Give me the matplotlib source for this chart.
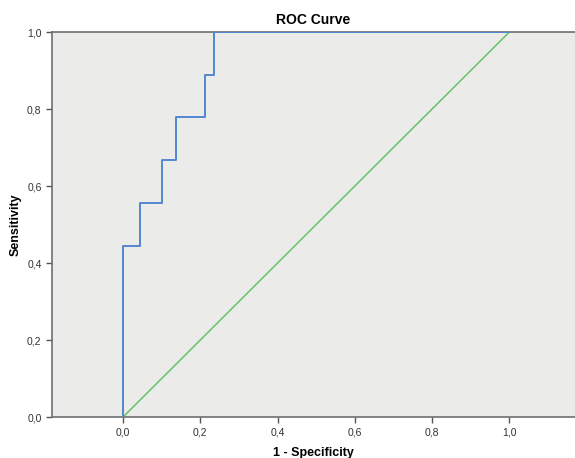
import numpy as np
import matplotlib
matplotlib.use("Agg")
import matplotlib.pyplot as plt

plt.rcParams['font.family'] = ['Liberation Sans', 'DejaVu Sans']

# ROC curve points (1 - specificity, sensitivity)
fpr = [0.0, 0.0, 0.044, 0.044, 0.100, 0.100, 0.137, 0.137, 0.213, 0.213, 0.236, 0.236, 1.0]
tpr = [0.0, 0.444, 0.444, 0.556, 0.556, 0.667, 0.667, 0.778, 0.778, 0.889, 0.889, 1.0, 1.0]

# reference line
ref_x = [0.0, 1.0]
ref_y = [0.0, 1.0]

ticks = [0.0, 0.2, 0.4, 0.6, 0.8, 1.0]
tick_labels = ['0,0', '0,2', '0,4', '0,6', '0,8', '1,0']

fig = plt.figure(figsize=(5.75, 4.58), dpi=100)
ax = fig.add_axes([0.0904, 0.0895, 0.9096, 0.8406])
ax.set_facecolor('#ebecea')

ax.plot(ref_x, ref_y, color='#66c266', lw=1.1, zorder=2)
ax.plot(fpr, tpr, color='#5288d0', lw=1.4, zorder=3)

ax.set_xlim(-0.184, 1.17)
ax.set_ylim(0.0, 1.0)
ax.set_xticks(ticks)
ax.set_xticklabels(tick_labels)
ax.set_yticks(ticks)
ax.set_yticklabels(tick_labels)
ax.tick_params(direction='out', length=4, width=1, colors='#555555',
               labelsize=7.5, labelcolor='#333333')

for s in ['left', 'bottom', 'top']:
    ax.spines[s].set_color('#6e6e6e')
    ax.spines[s].set_linewidth(1.2)
ax.spines['right'].set_visible(False)

ax.set_title('ROC Curve', fontsize=10, fontweight='bold', pad=6)
ax.set_xlabel('1 - Specificity', fontsize=9, fontweight='bold', labelpad=7)
ax.set_ylabel('Sensitivity', fontsize=9, fontweight='bold', labelpad=4)

fig.savefig('out.png', dpi=100)
